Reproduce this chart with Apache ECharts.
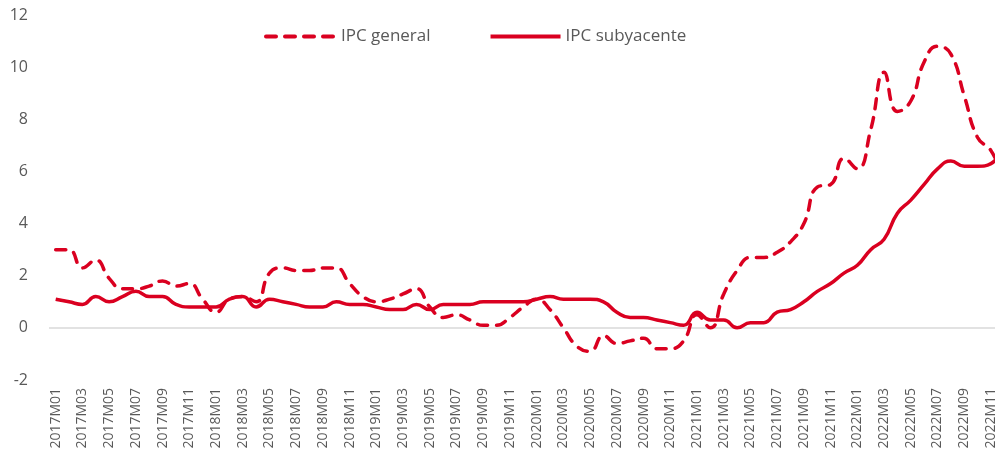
<!DOCTYPE html>
<html>
<head>
<meta charset="utf-8">
<script src="https://cdn.jsdelivr.net/npm/echarts@6/dist/echarts.min.js"></script>
<style>
  html, body { margin: 0; padding: 0; background: #fff; }
  #main { width: 995px; height: 455px; }
</style>
</head>
<body>
<div id="main"></div>
<script>
var chartDom = document.getElementById('main');
var myChart = echarts.init(chartDom);
var option;

// months 2017M01 .. 2022M12
var years = ['2017', '2018', '2019', '2020', '2021', '2022'];
var months = ['01', '02', '03', '04', '05', '06', '07', '08', '09', '10', '11', '12'];
var categories = [];
years.forEach(function (y) {
    months.forEach(function (m) {
        categories.push(y + 'M' + m);
    });
});

var ipcGeneral = [
    3.0, 3.0, 2.3, 2.6, 1.9, 1.5, 1.5, 1.6, 1.8, 1.6, 1.7, 1.1,
    0.6, 1.1, 1.2, 1.0, 2.1, 2.3, 2.2, 2.2, 2.3, 2.3, 1.7, 1.2,
    1.0, 1.1, 1.3, 1.5, 0.8, 0.4, 0.5, 0.3, 0.1, 0.1, 0.4, 0.8,
    1.1, 0.7, 0.0, -0.7, -0.9, -0.3, -0.6, -0.5, -0.4, -0.8, -0.8, -0.5,
    0.5, 0.0, 1.3, 2.2, 2.7, 2.7, 2.9, 3.3, 4.0, 5.4, 5.5, 6.5,
    6.1, 7.6, 9.8, 8.3, 8.7, 10.2, 10.8, 10.5, 8.9, 7.3, 6.8, 5.7
];

var ipcSubyacente = [
    1.1, 1.0, 0.9, 1.2, 1.0, 1.2, 1.4, 1.2, 1.2, 0.9, 0.8, 0.8,
    0.8, 1.1, 1.2, 0.8, 1.1, 1.0, 0.9, 0.8, 0.8, 1.0, 0.9, 0.9,
    0.8, 0.7, 0.7, 0.9, 0.7, 0.9, 0.9, 0.9, 1.0, 1.0, 1.0, 1.0,
    1.1, 1.2, 1.1, 1.1, 1.1, 1.0, 0.6, 0.4, 0.4, 0.3, 0.2, 0.1,
    0.6, 0.3, 0.3, 0.0, 0.2, 0.2, 0.6, 0.7, 1.0, 1.4, 1.7, 2.1,
    2.4, 3.0, 3.4, 4.4, 4.9, 5.5, 6.1, 6.4, 6.2, 6.2, 6.3, 7.0
];

var red = '#DA0020';
var textColor = '#595959';
var font = 'Open Sans';

option = {
    backgroundColor: '#fff',
    animation: false,
    textStyle: { fontFamily: font },
    legend: {
        left: 264,
        top: 28,
        padding: 0,
        itemWidth: 70,
        itemHeight: 14,
        itemGap: 58,
        itemStyle: { opacity: 0 },
        lineStyle: { width: 4 },
        textStyle: { color: textColor, fontSize: 17, fontFamily: font },
        data: ['IPC general', 'IPC subyacente']
    },
    grid: {
        left: 49,
        right: -16,
        top: 15,
        bottom: 75,
        containLabel: false,
        outerBoundsMode: 'none'
    },
    xAxis: {
        type: 'category',
        data: categories,
        boundaryGap: true,
        axisLine: { show: false },
        axisTick: { show: false },
        axisLabel: {
            interval: 1,
            rotate: 90,
            margin: 8,
            color: textColor,
            fontSize: 14,
            fontFamily: font
        }
    },
    yAxis: {
        type: 'value',
        min: -2,
        max: 12,
        interval: 2,
        axisLine: { show: false },
        axisTick: { show: false },
        splitLine: { show: false },
        axisLabel: {
            margin: 21,
            color: textColor,
            fontSize: 16,
            fontFamily: font
        }
    },
    series: [{
        name: 'IPC general',
        type: 'line',
        data: ipcGeneral,
        smooth: 0.5,
        symbol: 'none',
        z: 3,
        lineStyle: {
            color: red,
            width: 3.5,
            type: [10, 9],
            cap: 'round'
        },
        itemStyle: { color: red },
        markLine: {
            silent: true,
            symbol: 'none',
            label: { show: false },
            lineStyle: { color: '#d9d9d9', width: 1.5, type: 'solid' },
            data: [{ yAxis: 0 }],
            z: 1
        }
    }, {
        name: 'IPC subyacente',
        type: 'line',
        data: ipcSubyacente,
        smooth: 0.5,
        symbol: 'none',
        z: 4,
        lineStyle: {
            color: red,
            width: 3.5,
            type: 'solid'
        },
        itemStyle: { color: red }
    }]
};

option && myChart.setOption(option);
</script>
</body>
</html>
